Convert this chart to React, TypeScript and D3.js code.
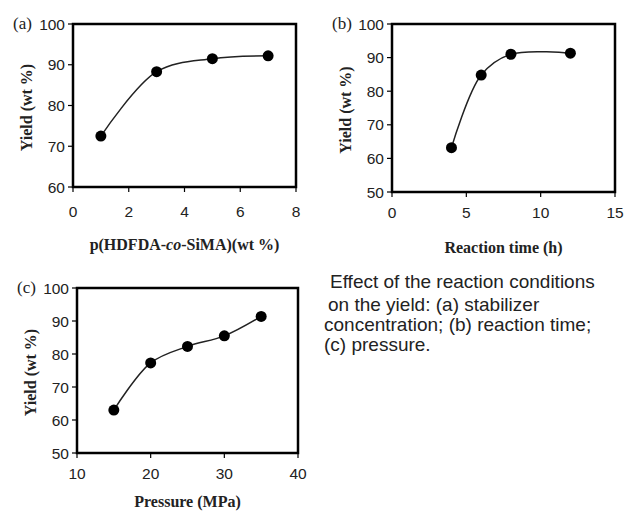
import React from 'react';
import * as d3 from 'd3';

// panel (a): stabilizer concentration
const concX = [1, 3, 5, 7];
const concYield = [72.5, 88.3, 91.5, 92.2];
// panel (b): reaction time
const timeX = [4, 6, 8, 12];
const timeYield = [63.2, 84.8, 91.0, 91.3];
// panel (c): pressure
const pressX = [15, 20, 25, 30, 35];
const pressYield = [63.0, 77.3, 82.3, 85.5, 91.4];

const captionLines = [
  'Effect of the reaction conditions',
  'on the yield: (a) stabilizer',
  'concentration; (b) reaction time;',
  '(c) pressure.',
];

const serif = '"Liberation Serif", "DejaVu Serif", serif';
const sans = '"Liberation Sans", Arial, sans-serif';

type PanelProps = {
  tag: string;
  xs: number[];
  ys: number[];
  xDomain: [number, number];
  xTicks: number[];
  yDomain: [number, number];
  yTicks: number[];
  box: { left: number; top: number; right: number; bottom: number };
  xTitle: React.ReactNode;
  tickGap: number;
  titleGap: number;
};

const Panel = ({ tag, xs, ys, xDomain, xTicks, yDomain, yTicks, box, xTitle, tickGap, titleGap }: PanelProps) => {
  const x = d3.scaleLinear().domain(xDomain).range([box.left, box.right]);
  const y = d3.scaleLinear().domain(yDomain).range([box.bottom, box.top]);
  const pts = xs.map((v, i) => [v, ys[i]] as [number, number]);
  const line = d3.line<[number, number]>()
    .x(d => x(d[0]))
    .y(d => y(d[1]))
    .curve(d3.curveCatmullRom.alpha(0.5));

  return (
    <g>
      <path d={line(pts) || ''} fill="none" stroke="#222" strokeWidth={1.5} />
      {pts.map((d, i) => (
        <circle key={i} cx={x(d[0])} cy={y(d[1])} r={5.5} fill="#000" />
      ))}
      <rect x={box.left} y={box.top} width={box.right - box.left} height={box.bottom - box.top}
        fill="none" stroke="#000" strokeWidth={2.5} />
      {yTicks.map(t => (
        <g key={'y' + t}>
          <line x1={box.left - 5} x2={box.left} y1={y(t)} y2={y(t)} stroke="#000" strokeWidth={1.2} />
          <text x={box.left - 8} y={y(t)} dy="0.36em" textAnchor="end" fontFamily={sans} fontSize={15.5} fill="#222">{t}</text>
        </g>
      ))}
      {xTicks.map(t => (
        <g key={'x' + t}>
          <line x1={x(t)} x2={x(t)} y1={box.bottom} y2={box.bottom + 5} stroke="#000" strokeWidth={1.2} />
          <text x={x(t)} y={box.bottom + tickGap} textAnchor="middle" fontFamily={sans} fontSize={15.5} fill="#222">{t}</text>
        </g>
      ))}
      <text x={box.left - 60} y={box.top + 5} fontFamily={serif} fontSize={17} fill="#222">{tag}</text>
      <text transform={`translate(${box.left - 41},${(box.top + box.bottom) / 2 + 2}) rotate(-90)`}
        textAnchor="middle" fontFamily={serif} fontWeight="bold" fontSize={16} fill="#222">Yield (wt %)</text>
      <text x={(box.left + box.right) / 2} y={box.bottom + titleGap} textAnchor="middle"
        fontFamily={serif} fontWeight="bold" fontSize={16} fill="#222">{xTitle}</text>
    </g>
  );
};

export default function App() {
  return (
    <svg width={625} height={512} style={{ position: 'absolute', left: 0, top: 0, background: '#fff' }}>
      <Panel tag="(a)" xs={concX} ys={concYield} xDomain={[0, 8]} xTicks={[0, 2, 4, 6, 8]}
        yDomain={[60, 100]} yTicks={[60, 70, 80, 90, 100]}
        box={{ left: 73, top: 24, right: 296, bottom: 187 }} tickGap={30} titleGap={63}
        xTitle={<>p(HDFDA-<tspan fontStyle="italic">co</tspan>-SiMA)(wt %)</>} />
      <Panel tag="(b)" xs={timeX} ys={timeYield} xDomain={[0, 15]} xTicks={[0, 5, 10, 15]}
        yDomain={[50, 100]} yTicks={[50, 60, 70, 80, 90, 100]}
        box={{ left: 392, top: 24, right: 615, bottom: 192 }} tickGap={26} titleGap={61}
        xTitle="Reaction time (h)" />
      <Panel tag="(c)" xs={pressX} ys={pressYield} xDomain={[10, 40]} xTicks={[10, 20, 30, 40]}
        yDomain={[50, 100]} yTicks={[50, 60, 70, 80, 90, 100]}
        box={{ left: 77, top: 288, right: 298, bottom: 453 }} tickGap={26} titleGap={54}
        xTitle="Pressure (MPa)" />
      {captionLines.map((l, i) => (
        <text key={i} x={[330, 328, 324, 324][i]} y={[288, 311, 331, 351][i]}
          fontFamily={sans} fontSize={19} fill="#222">{l}</text>
      ))}
    </svg>
  );
}
